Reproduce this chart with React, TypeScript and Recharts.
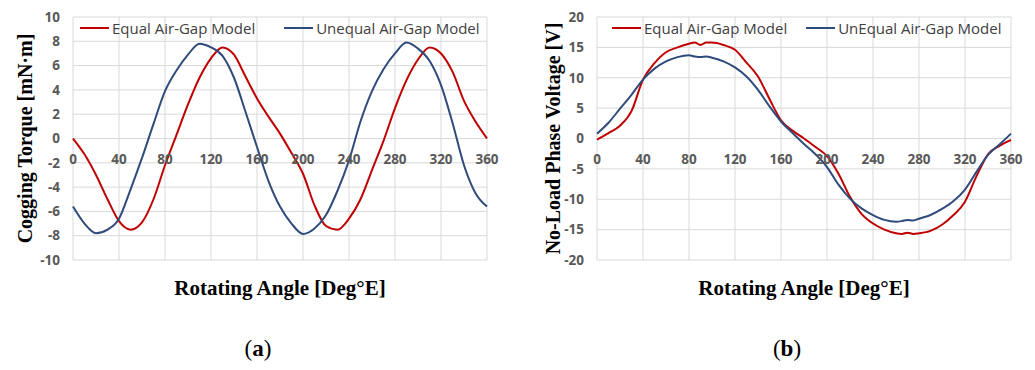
import React from 'react';
import { LineChart, Line, XAxis, YAxis, CartesianGrid, Label } from 'recharts';

// (a) cogging torque, every 10 deg
const torqueAngles = [
  0, 10, 20, 30, 40, 50, 60, 70, 80, 90, 100, 110, 120, 130, 140, 150, 160, 170, 180,
  190, 200, 210, 220, 230, 240, 250, 260, 270, 280, 290, 300, 310, 320, 330, 340, 350, 360,
];
const torqueEqual = [
  0, -1.3, -3.0, -5.0, -6.8, -7.5, -6.9, -5.0, -2.2, 0.3, 2.8, 5.0, 6.6, 7.5, 6.9, 5.1, 3.3, 1.8, 0.4,
  -1.2, -2.9, -5.5, -7.2, -7.5, -6.6, -5.0, -2.6, -0.2, 2.5, 4.8, 6.5, 7.5, 7.0, 5.5, 3.1, 1.4, 0,
];
const torqueUnequal = [
  -5.6, -7.0, -7.8, -7.5, -6.6, -4.2, -1.6, 1.2, 3.9, 5.6, 6.9, 7.8, 7.5, 6.8, 5.0, 2.2, -0.7, -3.5, -5.6,
  -7.0, -7.85, -7.4, -6.3, -4.3, -1.8, 1.4, 3.9, 5.7, 7.0, 7.9, 7.4, 6.4, 4.4, 1.3, -2.2, -4.5, -5.6,
];

// (b) no-load phase voltage
const voltAngles = [
  0, 10, 20, 30, 40, 50, 60, 70, 80, 85, 90, 95, 100, 110, 120, 130, 140, 150, 160, 170, 180,
  190, 200, 210, 220, 230, 240, 250, 260, 265, 270, 275, 280, 290, 300, 310, 320, 330, 340, 350, 360,
];
const voltEqual = [
  -0.2, 0.9, 2.1, 4.5, 9.7, 12.4, 14.2, 15.0, 15.6, 15.8, 15.4, 15.8, 15.8, 15.4, 14.6, 12.5, 10.2, 6.5, 3.0, 1.3, 0.0,
  -1.4, -2.9, -5.8, -9.6, -12.4, -14.0, -15.0, -15.6, -15.7, -15.5, -15.7, -15.6, -15.2, -14.2, -12.6, -10.4, -6.2, -2.6, -1.2, -0.25,
];
const voltUnequal = [
  0.8, 2.6, 4.9, 7.2, 9.7, 11.5, 12.7, 13.4, 13.7, 13.5, 13.4, 13.5, 13.3, 12.7, 11.7, 10.2, 8.0, 5.3, 2.8, 0.9, -0.9,
  -2.6, -4.7, -7.6, -9.9, -11.5, -12.6, -13.4, -13.7, -13.6, -13.4, -13.5, -13.2, -12.6, -11.6, -10.3, -8.4, -5.5, -2.7, -1.0, 0.8,
];

const angleTicks = [0, 40, 80, 120, 160, 200, 240, 280, 320, 360];
const torqueTicks = [-10, -8, -6, -4, -2, 0, 2, 4, 6, 8, 10];
const voltTicks = [-20, -15, -10, -5, 0, 5, 10, 15, 20];

const RED = '#C00000';
const BLUE = '#2F4B7C';
const GRID = '#D9D9D9';
const TICK = '#595959';
const SANS = '"Open Sans", "Noto Sans", sans-serif';
const SERIF = '"Liberation Serif", "Times New Roman", serif';

const torqueData = torqueAngles.map((a, i) => ({ angle: a, equal: torqueEqual[i], unequal: torqueUnequal[i] }));
const voltData = voltAngles.map((a, i) => ({ angle: a, equal: voltEqual[i], unequal: voltUnequal[i] }));

const CH_H = 300;
const TOP = 17;
const AXIS_H = 40;
const PLOT_H = CH_H - TOP - AXIS_H;

// x tick labels sit just under the zero line, not at the bottom
const makeTick = (yMin: number, yMax: number) => (props: any) => {
  const { x, payload } = props;
  const zeroY = TOP + PLOT_H * (yMax / (yMax - yMin));
  return (
    <text x={x} y={zeroY + 25} textAnchor="middle" fill={TICK} fontSize={13.5} fontWeight={700} fontFamily={SANS}>
      {payload.value}
    </text>
  );
};

const LegendBox = ({ left, gap, names }: { left: number; gap: number; names: string[] }) => (
  <div
    style={{
      position: 'absolute',
      left,
      top: 17,
      display: 'flex',
      gap,
      fontFamily: SANS,
      fontSize: 15,
      color: '#404040',
      lineHeight: '22px',
      whiteSpace: 'nowrap',
    }}
  >
    {names.map((n, i) => (
      <div key={n} style={{ display: 'flex', alignItems: 'center' }}>
        <span style={{ display: 'inline-block', width: 29, height: 2, background: i === 0 ? RED : BLUE, marginRight: 3 }} />
        <span>{n}</span>
      </div>
    ))}
  </div>
);

type PanelProps = {
  width: number;
  yWidth: number;
  right: number;
  data: any[];
  yTicks: number[];
  yTitle: string;
  yTitleX: number;
};

const Panel = ({ width, yWidth, right, data, yTicks, yTitle, yTitleX }: PanelProps) => {
  const yMin = yTicks[0];
  const yMax = yTicks[yTicks.length - 1];
  return (
    <LineChart width={width} height={CH_H} data={data} margin={{ top: TOP, right, left: 0, bottom: 0 }}>
      <CartesianGrid stroke={GRID} strokeWidth={1} />
      <XAxis
        dataKey="angle"
        type="number"
        domain={[0, 360]}
        ticks={angleTicks}
        axisLine={false}
        tickLine={false}
        height={AXIS_H}
        tick={makeTick(yMin, yMax)}
        interval={0}
      >
        <Label
          value="Rotating Angle [Deg°E]"
          position="insideBottom"
          offset={5}
          style={{ fontFamily: SERIF, fontWeight: 700, fontSize: 21, fill: '#000' }}
        />
      </XAxis>
      <YAxis
        type="number"
        domain={[yMin, yMax]}
        ticks={yTicks}
        axisLine={false}
        tickLine={false}
        width={yWidth}
        tickSize={0}
        tickMargin={13}
        interval={0}
        tick={{ fill: TICK, fontSize: 13.5, fontWeight: 700, fontFamily: SANS }}
      >
        <Label
          value={yTitle}
          angle={-90}
          position="insideLeft"
          offset={yTitleX}
          style={{ fontFamily: SERIF, fontWeight: 700, fontSize: 20, fill: '#000', textAnchor: 'middle' }}
        />
      </YAxis>
      <Line type="monotone" dataKey="equal" stroke={RED} strokeWidth={2} dot={false} isAnimationActive={false} />
      <Line type="monotone" dataKey="unequal" stroke={BLUE} strokeWidth={2} dot={false} isAnimationActive={false} />
    </LineChart>
  );
};

const captionStyle: React.CSSProperties = {
  position: 'absolute',
  top: 336,
  fontFamily: SERIF,
  fontSize: 23,
  color: '#000',
  transform: 'translateX(-50%)',
};

export default function App() {
  return (
    <div style={{ position: 'absolute', left: 0, top: 0, width: 1035, height: 370, background: '#fff' }}>
      <div style={{ position: 'absolute', left: 0, top: 0 }}>
        <Panel
          width={520}
          yWidth={73}
          right={33}
          data={torqueData}
          yTicks={torqueTicks}
          yTitle="Cogging Torque  [mN·m]"
          yTitleX={25}
        />
        <LegendBox left={80} gap={29} names={['Equal Air-Gap Model', 'Unequal Air-Gap Model']} />
      </div>
      <div style={{ position: 'absolute', left: 520, top: 0 }}>
        <Panel
          width={515}
          yWidth={77}
          right={24}
          data={voltData}
          yTicks={voltTicks}
          yTitle="No-Load Phase Voltage [V]"
          yTitleX={33}
        />
        <LegendBox left={92} gap={19} names={['Equal Air-Gap Model', 'UnEqual Air-Gap Model']} />
      </div>
      <div style={{ ...captionStyle, left: 258 }}>
        (<b>a</b>)
      </div>
      <div style={{ ...captionStyle, left: 787 }}>
        (<b>b</b>)
      </div>
    </div>
  );
}
